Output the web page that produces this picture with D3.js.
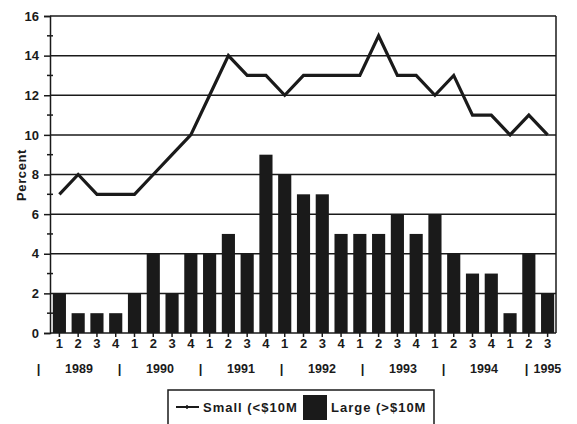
<!DOCTYPE html>
<html>
<head>
<meta charset="utf-8">
<script src="https://cdn.jsdelivr.net/npm/d3@7"></script>
<style>
  body { margin: 0; background: #fff; }
  text { font-family: "Liberation Sans", Arial, sans-serif; font-weight: bold; fill: #1a1a1a; }
</style>
</head>
<body>
<div id="main"></div>
<script>
/*********************************************************
 * Data
 *********************************************************/
const quarterLabels = ['1','2','3','4','1','2','3','4','1','2','3','4','1','2','3','4',
  '1','2','3','4','1','2','3','4','1','2','3'];
const years = ['1989', '1990', '1991', '1992', '1993', '1994'];
const lastYear = '1995';
const smallValues = [7, 8, 7, 7, 7, 8, 9, 10, 12, 14, 13, 13, 12, 13, 13, 13,
  13, 15, 13, 13, 12, 13, 11, 11, 10, 11, 10];
const largeValues = [2, 1, 1, 1, 2, 4, 2, 4, 4, 5, 4, 9, 8, 7, 7, 5,
  5, 5, 6, 5, 6, 4, 3, 3, 1, 4, 2];
const seriesNames = ['Small (<$10M', 'Large (>$10M'];

/*********************************************************
 * Layout
 *********************************************************/
const svgWidth = 577;
const svgHeight = 424;
const plot = { l: 50, r: 556, t: 16, b: 333 };
const ink = '#1a1a1a';
const fontFam = '"Liberation Sans", Arial, sans-serif';

const svg = d3.select('#main')
  .append('svg')
  .attr('width', svgWidth)
  .attr('height', svgHeight);

const idx = d3.range(quarterLabels.length);

const x = d3.scaleBand()
  .domain(idx)
  .range([plot.l, plot.r + 1])
  .paddingInner(0.3)
  .paddingOuter(0.15);

const y = d3.scaleLinear()
  .domain([0, 16])
  .range([plot.b, plot.t]);

// gridlines at even values
svg.append('g')
  .selectAll('line')
  .data(d3.range(2, 17, 2))
  .enter().append('line')
  .attr('x1', plot.l)
  .attr('x2', plot.r)
  .attr('y1', d => y(d))
  .attr('y2', d => y(d))
  .attr('stroke', ink)
  .attr('stroke-width', 1.5);

// right frame
svg.append('line')
  .attr('x1', plot.r).attr('x2', plot.r)
  .attr('y1', plot.t).attr('y2', plot.b)
  .attr('stroke', ink)
  .attr('stroke-width', 1.5);

// bars
svg.append('g')
  .selectAll('rect')
  .data(largeValues)
  .enter().append('rect')
  .attr('x', (d, i) => x(i))
  .attr('y', d => y(d))
  .attr('width', x.bandwidth())
  .attr('height', d => y(0) - y(d))
  .attr('fill', ink);

// line
const line = d3.line()
  .x((d, i) => x(i) + x.bandwidth() / 2)
  .y(d => y(d));

svg.append('path')
  .datum(smallValues)
  .attr('d', line)
  .attr('fill', 'none')
  .attr('stroke', ink)
  .attr('stroke-width', 3.2)
  .attr('stroke-linejoin', 'miter');

/*********************************************************
 * Axes
 *********************************************************/
const yAxis = d3.axisLeft(y)
  .tickValues(d3.range(0, 17, 2))
  .tickSize(6)
  .tickPadding(5);

const gY = svg.append('g')
  .attr('transform', `translate(${plot.l},0)`)
  .call(yAxis);
gY.select('.domain').attr('stroke', ink).attr('stroke-width', 1.5);
gY.selectAll('.tick line').attr('stroke', ink).attr('stroke-width', 1.5);
gY.selectAll('.tick text')
  .style('font-size', '13px')
  .style('font-family', fontFam)
  .style('font-weight', 'bold')
  .attr('fill', ink);

// minor ticks at odd values
svg.append('g')
  .selectAll('line')
  .data(d3.range(1, 16, 2))
  .enter().append('line')
  .attr('x1', plot.l - 3)
  .attr('x2', plot.l + 3)
  .attr('y1', d => y(d))
  .attr('y2', d => y(d))
  .attr('stroke', ink)
  .attr('stroke-width', 1.5);

const xAxis = d3.axisBottom(x)
  .tickFormat(i => quarterLabels[i])
  .tickSize(4)
  .tickPadding(2)
  .tickSizeOuter(0);

const gX = svg.append('g')
  .attr('transform', `translate(0,${plot.b})`)
  .call(xAxis);
gX.select('.domain').attr('stroke', ink).attr('stroke-width', 1.5)
  .attr('d', `M${plot.l},0H${plot.r}`);
gX.selectAll('.tick line').attr('stroke', ink).attr('stroke-width', 1.5);
gX.selectAll('.tick text')
  .style('font-size', '13px')
  .style('font-family', fontFam)
  .style('font-weight', 'bold')
  .attr('fill', ink);

// year row
const yearX = d3.scaleLinear().domain([0, 1]).range([79, 160]);
const yearRow = svg.append('g').attr('class', 'years');

yearRow.selectAll('.sep')
  .data(years)
  .enter().append('text')
  .attr('x', (d, i) => yearX(i - 0.5))
  .attr('y', 373)
  .attr('text-anchor', 'middle')
  .style('font-size', '13px')
  .text('|');

yearRow.selectAll('.yr')
  .data(years)
  .enter().append('text')
  .attr('x', (d, i) => yearX(i))
  .attr('y', 373)
  .attr('text-anchor', 'middle')
  .style('font-size', '12.5px')
  .text(d => d);

yearRow.append('text')
  .attr('x', yearX(years.length - 0.5) + 2)
  .attr('y', 373)
  .attr('text-anchor', 'middle')
  .style('font-size', '13px')
  .text('|');

yearRow.append('text')
  .attr('x', yearX(years.length - 0.5) + 9)
  .attr('y', 373)
  .style('font-size', '12.5px')
  .text(lastYear);

// y title
svg.append('text')
  .attr('transform', 'translate(26,175) rotate(-90)')
  .attr('text-anchor', 'middle')
  .style('font-size', '13px')
  .style('letter-spacing', '0.6px')
  .text('Percent');

/*********************************************************
 * Legend
 *********************************************************/
const legend = svg.append('g').attr('class', 'legend');
legend.append('clipPath')
  .attr('id', 'legend-clip')
  .append('rect')
  .attr('x', 168).attr('y', 390)
  .attr('width', 266).attr('height', 40);

legend.append('rect')
  .attr('x', 168).attr('y', 390)
  .attr('width', 266).attr('height', 40)
  .attr('fill', '#fff')
  .attr('stroke', ink)
  .attr('stroke-width', 1.5);

const lg = legend.append('g').attr('clip-path', 'url(#legend-clip)');
lg.append('line')
  .attr('x1', 176).attr('x2', 199)
  .attr('y1', 407).attr('y2', 407)
  .attr('stroke', ink)
  .attr('stroke-width', 2);
lg.append('line')
  .attr('x1', 187).attr('x2', 187)
  .attr('y1', 405).attr('y2', 409)
  .attr('stroke', ink)
  .attr('stroke-width', 1.5);
lg.append('text')
  .attr('x', 203).attr('y', 412)
  .style('font-size', '13px')
  .style('letter-spacing', '1px')
  .text(seriesNames[0]);
lg.append('rect')
  .attr('x', 303).attr('y', 395)
  .attr('width', 24).attr('height', 25)
  .attr('fill', ink);
lg.append('text')
  .attr('x', 331).attr('y', 412)
  .style('font-size', '13px')
  .style('letter-spacing', '1px')
  .text(seriesNames[1]);
</script>
</body>
</html>
